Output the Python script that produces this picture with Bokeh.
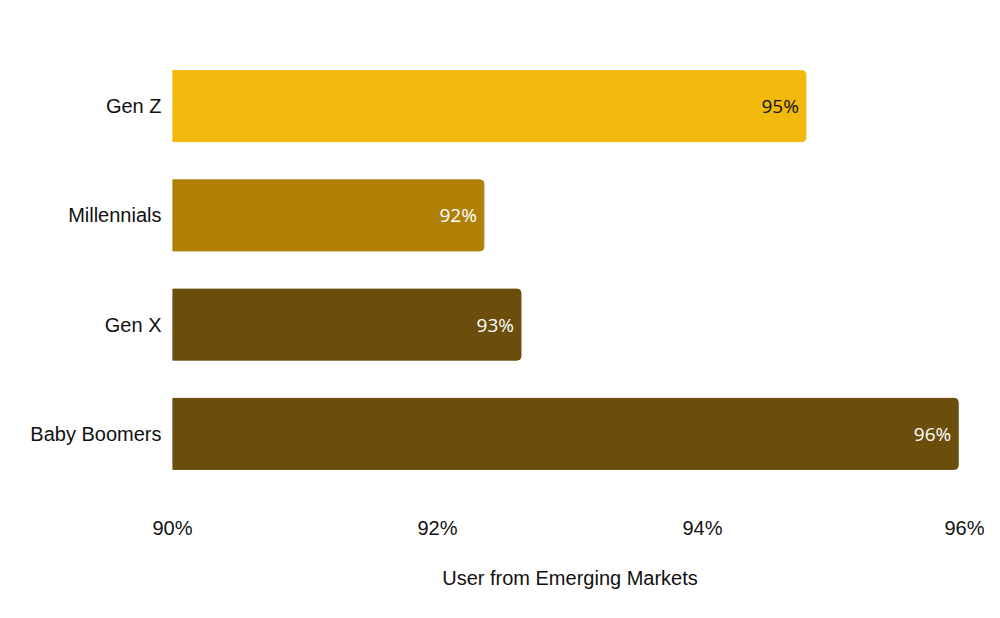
from bokeh.plotting import figure
from bokeh.models import ColumnDataSource, FixedTicker, CustomJSTickFormatter
from bokeh.core.properties import value
from bokeh.embed import file_html
from bokeh.resources import INLINE

categories = ["Gen Z", "Millennials", "Gen X", "Baby Boomers"]
values = [94.78, 92.35, 92.63, 95.93]
labels = ["95%", "92%", "93%", "96%"]
colors = ["#F0B90B", "#B07F06", "#6B4D0C", "#6B4D0C"]
label_colors = ["#111111", "#FFFFFF", "#FFFFFF", "#FFFFFF"]
x_ticks = [90, 92, 94, 96]

src = ColumnDataSource(dict(cat=categories, val=values, lab=labels, col=colors, lcol=label_colors))

p = figure(y_range=list(reversed(categories)), x_range=(90, 96), width=984, height=600,
           output_backend="svg", toolbar_location=None,
           min_border_left=172, min_border_right=17, min_border_top=51, min_border_bottom=112)

p.hbar(y="cat", left=90, right="val", height=0.65, color="col", source=src,
       border_radius=(0, 4, 4, 0))
p.text(x="val", y="cat", text="lab", text_color="lcol", source=src,
       text_align="right", text_baseline="middle", x_offset=-7,
       text_font=value("Open Sans"), text_font_size="19px")

p.xaxis.ticker = FixedTicker(ticks=x_ticks)
p.xaxis.formatter = CustomJSTickFormatter(code="return tick.toFixed(0) + '%';")
p.xaxis.axis_label = "User from Emerging Markets"

for ax in (p.xaxis[0], p.yaxis[0]):
    ax.axis_line_color = None
    ax.major_tick_line_color = None
    ax.minor_tick_line_color = None
    ax.major_label_text_font = "Liberation Sans"
    ax.major_label_text_font_size = "20px"
    ax.major_label_text_color = "#111111"

p.xaxis.major_label_standoff = 22
p.xaxis.axis_label_text_font = "Liberation Sans"
p.xaxis.axis_label_text_font_size = "20px"
p.xaxis.axis_label_text_font_style = "normal"
p.xaxis.axis_label_text_color = "#111111"
p.xaxis.axis_label_standoff = 25
p.yaxis.major_label_standoff = 5

p.xgrid.grid_line_color = None
p.ygrid.grid_line_color = None
p.outline_line_color = None

open("out.html", "w").write(file_html(p, INLINE))
